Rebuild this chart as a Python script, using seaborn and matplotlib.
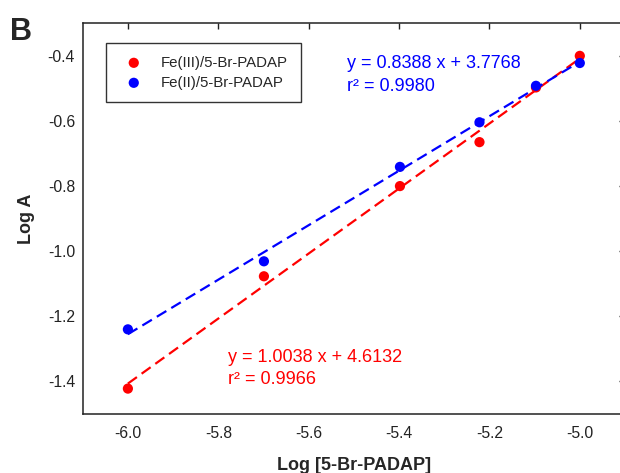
import numpy as np
import pandas as pd
import matplotlib
matplotlib.use("Agg")
import matplotlib.pyplot as plt
import seaborn as sns

# data
log_conc = [-6.0, -5.699, -5.398, -5.222, -5.097, -5.0]
fe3_logA = [-1.422, -1.077, -0.800, -0.665, -0.497, -0.400]
fe2_logA = [-1.240, -1.031, -0.741, -0.604, -0.492, -0.422]
series_names = ["Fe(III)/5-Br-PADAP", "Fe(II)/5-Br-PADAP"]
series_colors = ["#ff0000", "#0000ff"]
fit_texts = [("y = 1.0038 x + 4.6132", "r\u00b2 = 0.9966"),
             ("y = 0.8388 x + 3.7768", "r\u00b2 = 0.9980")]
x_ticks = [-6.0, -5.8, -5.6, -5.4, -5.2, -5.0]
y_ticks = [-1.4, -1.2, -1.0, -0.8, -0.6, -0.4]

df = pd.DataFrame({
    "x": log_conc * 2,
    "y": fe3_logA + fe2_logA,
    "series": [series_names[0]] * len(log_conc) + [series_names[1]] * len(log_conc),
})

sns.set_style("white")
plt.rcParams["font.family"] = ["Liberation Sans", "DejaVu Sans"]
plt.rcParams["axes.unicode_minus"] = False

fig = plt.figure(figsize=(6.2, 4.73), dpi=100)
# axes runs past the right edge, the reference is cropped there
ax = fig.add_axes([82.7 / 620, (473 - 414) / 473, (625 - 82.7) / 620, (414 - 23.3) / 473])

for name, col in zip(series_names, series_colors):
    sub = df[df["series"] == name]
    sns.regplot(x="x", y="y", data=sub, scatter=False, ci=None, ax=ax,
                color=col, line_kws=dict(lw=1.6, dashes=(5, 2.6)))
for name, col in zip(series_names, series_colors):
    sub = df[df["series"] == name]
    sns.scatterplot(x="x", y="y", data=sub, ax=ax, color=col, s=54,
                    edgecolor="none", label=name, zorder=3)

# fit equations
ax.text(-5.778, -1.340, fit_texts[0][0], color=series_colors[0], fontsize=13)
ax.text(-5.778, -1.407, fit_texts[0][1], color=series_colors[0], fontsize=13)
ax.text(-5.516, -0.436, fit_texts[1][0], color=series_colors[1], fontsize=13)
ax.text(-5.516, -0.507, fit_texts[1][1], color=series_colors[1], fontsize=13)

ax.set_xlim(-6.1, -4.9)
ax.set_ylim(-1.5, -0.3)
ax.set_xticks(x_ticks)
ax.set_yticks(y_ticks)
ax.set_xticklabels([f"{v:.1f}" for v in x_ticks])
ax.set_yticklabels([f"{v:.1f}" for v in y_ticks])
ax.tick_params(axis="both", direction="in", length=4, width=1, colors="#222222",
               labelsize=11.3, top=True, right=True)
ax.tick_params(axis="x", pad=8.5)
ax.tick_params(axis="y", pad=5.5)
for sp in ax.spines.values():
    sp.set_linewidth(1.1)
    sp.set_color("#222222")

ax.set_xlabel("Log [5-Br-PADAP]", fontsize=13, fontweight="bold", labelpad=12)
ax.set_ylabel("Log A", fontsize=13, fontweight="bold", labelpad=9)

leg = ax.legend(loc="upper left", bbox_to_anchor=(0.043, 0.9496), fontsize=10.8,
                frameon=True, fancybox=False, framealpha=1, edgecolor="#333333",
                borderpad=0.85, handlelength=2.0, handletextpad=0.8, labelspacing=0.4,
                borderaxespad=0)
leg.get_frame().set_linewidth(1.0)

fig.text(10 / 620, 1 - 40 / 473, "B", fontsize=22, fontweight="bold")

plt.savefig("out.png", dpi=100)
